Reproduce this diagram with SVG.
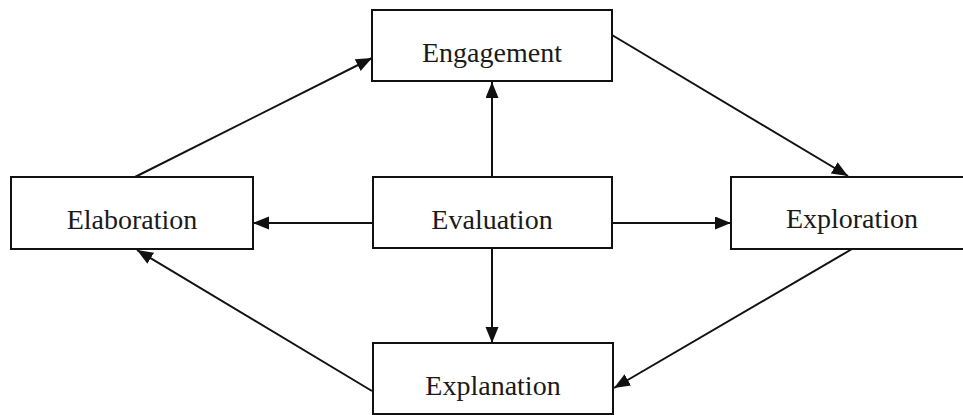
<svg xmlns="http://www.w3.org/2000/svg" width="963" height="415" viewBox="0 0 963 415">
<style>
.box{fill:#fff;stroke:#111;stroke-width:2}
.lbl{font-family:"Liberation Serif","Times New Roman",serif;font-size:28px;fill:#1a1a1a;text-anchor:middle}
.edge{stroke:#111;stroke-width:2;fill:none;marker-end:url(#ah)}
</style>
<defs>
<marker id="ah" markerUnits="userSpaceOnUse" markerWidth="17" markerHeight="14" refX="16" refY="6.5" orient="auto">
<path d="M0,0 L16,6.5 L0,13 z" fill="#111"/>
</marker>
</defs>
<rect width="963" height="415" fill="#fff"/>
<g id="connectors">
<line class="edge" x1="492" y1="177" x2="492" y2="82"/>
<line class="edge" x1="492" y1="248" x2="492" y2="343"/>
<line class="edge" x1="373" y1="223" x2="253" y2="223"/>
<line class="edge" x1="612" y1="223" x2="731" y2="223"/>
<line class="edge" x1="612" y1="35" x2="848" y2="176"/>
<line class="edge" x1="135" y1="177" x2="372" y2="58"/>
<line class="edge" x1="852" y1="249" x2="614" y2="388"/>
<line class="edge" x1="372" y1="391" x2="137" y2="250"/>
</g>
<g id="engagement">
<rect class="box" x="372" y="10" width="240" height="71"/>
<text class="lbl" x="492" y="62">Engagement</text>
</g>
<g id="elaboration">
<rect class="box" x="11" y="177" width="242" height="72"/>
<text class="lbl" x="132" y="229">Elaboration</text>
</g>
<g id="evaluation">
<rect class="box" x="373" y="177" width="239" height="71"/>
<text class="lbl" x="492" y="229">Evaluation</text>
</g>
<g id="exploration">
<rect class="box" x="731" y="177" width="250" height="72"/>
<text class="lbl" x="852" y="228">Exploration</text>
</g>
<g id="explanation">
<rect class="box" x="373" y="343" width="240" height="71"/>
<text class="lbl" x="493" y="395">Explanation</text>
</g>
</svg>
